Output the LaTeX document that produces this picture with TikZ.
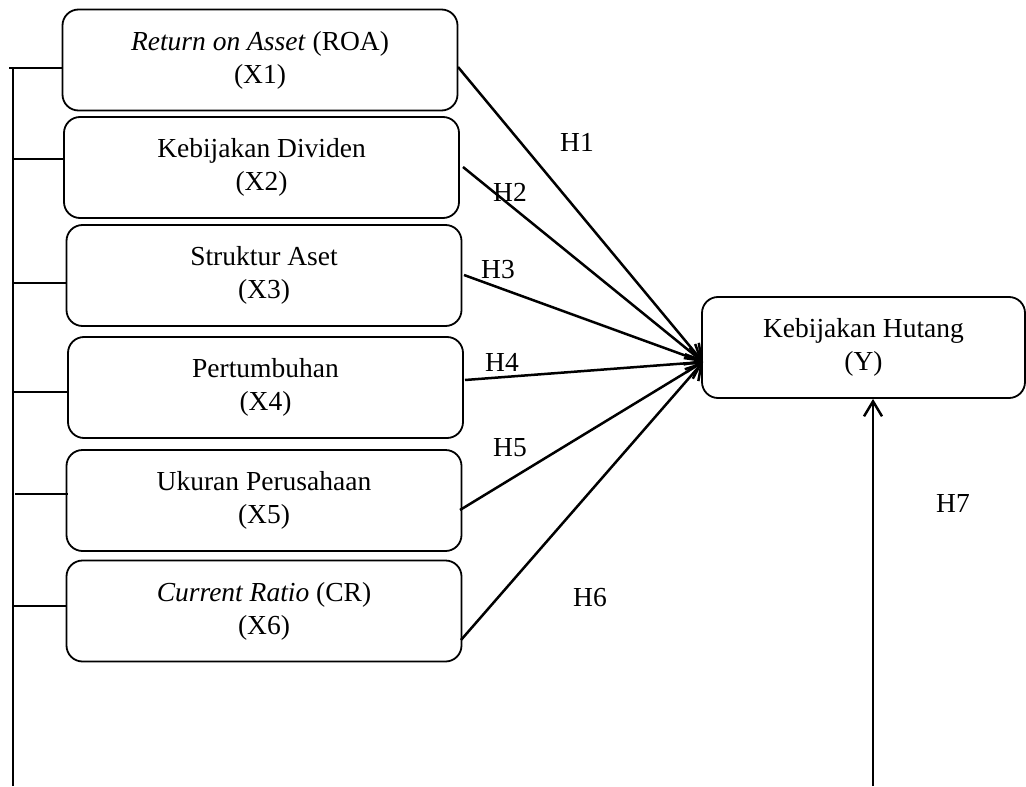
\documentclass[tikz,border=0pt]{standalone}
\usepackage{fontspec}
\setmainfont{Liberation Serif}
\usetikzlibrary{arrows.meta}
\begin{document}
\begin{tikzpicture}[x=0.5pt,y=-0.5pt,
  font=\fontsize{13.75}{16.5}\selectfont,
  varbox/.style={draw, line width=0.9pt, rounded corners=8pt, align=center,
    minimum width=197.5pt, minimum height=50.5pt, inner sep=0pt},
  link/.style={line width=0.9pt},
  arr/.style={line width=1.25pt, -{Straight Barb[length=7.5pt,width=9pt,line width=1.25pt]}},
  lab/.style={inner sep=0pt}]
\useasboundingbox (0,0) rectangle (1026,786);
% boxes
\node[varbox] (x1) at (260,60) {\textit{Return on Asset} (ROA)\\(X1)};
\node[varbox] (x2) at (261.5,167.5) {Kebijakan Dividen\\(X2)};
\node[varbox] (x3) at (264,275.5) {Struktur Aset\\(X3)};
\node[varbox] (x4) at (265.5,387.5) {Pertumbuhan\\(X4)};
\node[varbox] (x5) at (264,500.5) {Ukuran Perusahaan\\(X5)};
\node[varbox] (x6) at (264,611) {\textit{Current Ratio} (CR)\\(X6)};
\node[varbox, minimum width=161.5pt] (y) at (863.5,347.5) {Kebijakan Hutang\\(Y)};
% left bracket
\coordinate (b0) at (13,786);
\coordinate (b1) at (9,68);
\coordinate (b2) at (13,159);
\coordinate (b3) at (13,283);
\coordinate (b4) at (13,392);
\coordinate (b5) at (15,494);
\coordinate (b6) at (13,606);
\draw[link] (b0) -- (13,68);
\draw[link] (b1) -- (x1.west |- b1);
\draw[link] (b2) -- (x2.west |- b2);
\draw[link] (b3) -- (x3.west |- b3);
\draw[link] (b4) -- (x4.west |- b4);
\draw[link] (b5) -- ([xshift=1pt]x5.west |- b5);
\draw[link] (b6) -- (x6.west |- b6);
% arrows to Y
\coordinate (t) at (703,362);
\coordinate (s1) at (458,67);
\coordinate (s2) at (463,167);
\coordinate (s3) at (464,275);
\coordinate (s4) at (465,380);
\coordinate (s5) at (460,510);
\coordinate (s6) at (461,640);
\draw[arr] (s1) -- (t);
\draw[arr] (s2) -- (t);
\draw[arr] (s3) -- (t);
\draw[arr] (s4) -- (t);
\draw[arr] (s5) -- (t);
\draw[arr] (s6) -- (t);
\coordinate (v) at (873,786);
\draw[arr] (v) -- (v |- y.south);
% labels
\node[lab] (h1) at (577,142) {H1};
\node[lab] (h2) at (510,192) {H2};
\node[lab] (h3) at (498,270) {H3};
\node[lab] (h4) at (502,362) {H4};
\node[lab] (h5) at (510,448) {H5};
\node[lab] (h6) at (590,598) {H6};
\node[lab] (h7) at (953,503) {H7};
\end{tikzpicture}
\end{document}
